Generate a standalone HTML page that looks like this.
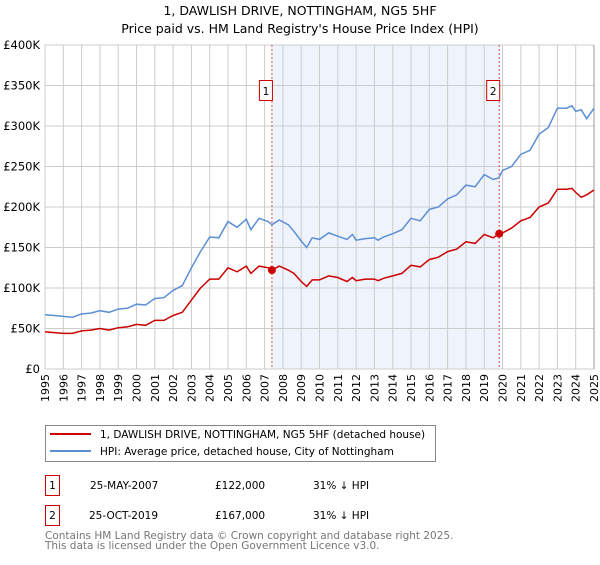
<!DOCTYPE html>
<html><head><meta charset="utf-8"><style>
body{margin:0;background:#fff;font-family:"Liberation Sans","DejaVu Sans",sans-serif;}
svg text{font-family:"DejaVu Sans","Liberation Sans",sans-serif;}
</style></head><body>
<svg id="chart" width="600" height="560" viewBox="0 0 600 560" xmlns="http://www.w3.org/2000/svg">
<text x="300" y="15" font-size="12.5" text-anchor="middle" fill="#000">1, DAWLISH DRIVE, NOTTINGHAM, NG5 5HF</text>
<text x="300" y="33" font-size="12.5" text-anchor="middle" fill="#000">Price paid vs. HM Land Registry's House Price Index (HPI)</text>
<g id="plot"></g>
<g>
<rect x="45.5" y="425.5" width="390" height="36" fill="#fff" stroke="#888"/>
<line x1="50" y1="434" x2="91" y2="434" stroke="#cc0000" stroke-width="2"/>
<text x="100" y="438" font-size="10.5">1, DAWLISH DRIVE, NOTTINGHAM, NG5 5HF (detached house)</text>
<line x1="50" y1="451" x2="91" y2="451" stroke="#5b8fd4" stroke-width="2"/>
<text x="100" y="455" font-size="10.5">HPI: Average price, detached house, City of Nottingham</text>
</g>
<g>
<rect x="45.5" y="475.5" width="14" height="20" fill="#fff" stroke="#cc0000"/>
<text x="52.5" y="489" font-size="10.5" text-anchor="middle">1</text>
<text x="90" y="489" font-size="10.5">25-MAY-2007</text>
<text x="215" y="489" font-size="10.5">£122,000</text>
<text x="313" y="489" font-size="10.5">31% ↓ HPI</text>
</g>
<g>
<rect x="45.5" y="505.5" width="14" height="20" fill="#fff" stroke="#cc0000"/>
<text x="52.5" y="519" font-size="10.5" text-anchor="middle">2</text>
<text x="89" y="519" font-size="10.5">25-OCT-2019</text>
<text x="215" y="519" font-size="10.5">£167,000</text>
<text x="313" y="519" font-size="10.5">31% ↓ HPI</text>
</g>
<text x="45" y="539" font-size="10.5" fill="#777">Contains HM Land Registry data © Crown copyright and database right 2025.</text>
<text x="45" y="549" font-size="10.5" fill="#777">This data is licensed under the Open Government Licence v3.0.</text>
</svg>
<script>
const hpiYears=[1995,1995.5,1996,1996.5,1997,1997.5,1998,1998.5,1999,1999.5,2000,2000.5,2001,2001.5,2002,2002.5,2003,2003.5,2004,2004.5,2005,2005.5,2006,2006.25,2006.7,2007.2,2007.4,2007.8,2008.3,2008.6,2009,2009.3,2009.6,2010,2010.5,2011,2011.5,2011.8,2012,2012.5,2013,2013.2,2013.5,2014,2014.5,2015,2015.5,2016,2016.5,2017,2017.5,2018,2018.5,2019,2019.5,2019.8,2020,2020.5,2021,2021.5,2022,2022.5,2023,2023.5,2023.8,2024,2024.3,2024.6,2025];
const hpiValues=[67,66,65,64,68,69,72,70,74,75,80,79,87,88,97,103,125,145,163,162,182,175,185,172,186,182,178,184,178,170,158,150,162,160,168,164,160,166,159,161,162,159,163,167,172,186,183,197,200,210,215,227,225,240,234,236,245,250,265,270,290,298,322,322,325,318,320,309,322];
const priceValues=[46,45,44,44,47,48,50,48,51,52,55,54,60,60,66,70,85,100,111,111,125,120,127,118,127,125,122,127,122,118,108,102,110,110,115,113,108,113,109,111,111,109,112,115,118,128,126,135,138,145,148,157,155,166,162,167,168,174,183,187,200,205,222,222,223,218,212,215,221];
const yTicks=[0,50,100,150,200,250,300,350,400];
const yTickLabels=["£0","£50K","£100K","£150K","£200K","£250K","£300K","£350K","£400K"];
const xTicks=[1995,1996,1997,1998,1999,2000,2001,2002,2003,2004,2005,2006,2007,2008,2009,2010,2011,2012,2013,2014,2015,2016,2017,2018,2019,2020,2021,2022,2023,2024,2025];
const saleYears=[2007.4,2019.82];
const salePrices=[122,167];
const saleLabels=["1","2"];
const X0=45,X1=594,Y0=369,Y1=45;
const xs=y=>X0+(y-1995)/30*(X1-X0);
const ys=v=>Y0-v/400*(Y0-Y1);
const NS="http://www.w3.org/2000/svg";
const g=document.getElementById('plot');
function mk(t,a){const e=document.createElementNS(NS,t);for(const k in a)e.setAttribute(k,a[k]);g.appendChild(e);return e;}
let e=mk('rect',{x:xs(saleYears[0]),y:Y1,width:xs(saleYears[1])-xs(saleYears[0]),height:Y0-Y1,fill:'#eef3fc'});


xTicks.forEach(t=>{
 let l=mk('line',{x1:xs(t),x2:xs(t),y1:Y1,y2:Y0,stroke:'#ccc','stroke-width':1});
 
 
 let tx=mk('text',{x:0,y:0,'font-size':11,'text-anchor':'end',transform:`translate(${xs(t)+4},${Y0+5}) rotate(-90)`});
 tx.textContent=t;
 
 
});
yTicks.forEach((t,i)=>{
 let l=mk('line',{x1:X0,x2:X1,y1:ys(t),y2:ys(t),stroke:'#ccc','stroke-width':1});
 
 
 let tx=mk('text',{x:40,y:ys(t)+4,'font-size':11.5,'text-anchor':'end'});
 tx.textContent=yTickLabels[i];
 
 
});
let ax=mk('line',{x1:X1,x2:X1,y1:Y1,y2:Y0,stroke:'#999','stroke-width':1});


saleYears.forEach((s,i)=>{
 let l=mk('line',{x1:xs(s),x2:xs(s),y1:Y1,y2:Y0,stroke:'#e05050','stroke-width':1,'stroke-dasharray':'2,2'});
 
 
});
function path(vals,col,name){
 let d=hpiYears.map((y,i)=>(i?'L':'M')+xs(y).toFixed(1)+','+ys(vals[i]).toFixed(1)).join('');
 let p=mk('path',{d:d,fill:'none',stroke:col,'stroke-width':1.5});
 
 
}
path(hpiValues,'#5b8fd4','hpi-line');
path(priceValues,'#cc0000','price-paid-line');
saleYears.forEach((s,i)=>{
 let c=mk('circle',{cx:xs(s),cy:ys(salePrices[i]),r:4,fill:'#cc0000'});
 
 
 let r=mk('rect',{x:xs(s)-12.5,y:80.5,width:13,height:20,fill:'#fff',stroke:'#cc0000'});
 
 
 let t=mk('text',{x:xs(s)-6,y:95,'font-size':10.5,'text-anchor':'middle'});
 t.textContent=saleLabels[i];
 
 
});
</script>
</body></html>
